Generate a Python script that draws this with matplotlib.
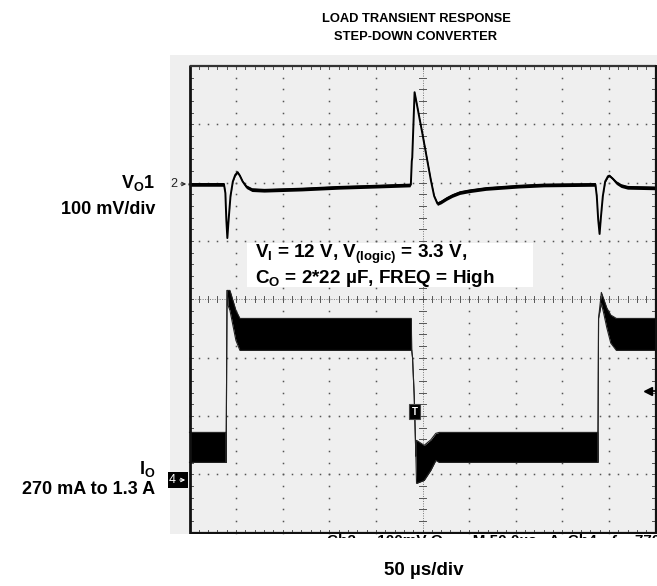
import numpy as np
import matplotlib
matplotlib.use("Agg")
import matplotlib.pyplot as plt
from matplotlib.patches import Rectangle
from matplotlib.transforms import Affine2D

plt.rcParams['font.family'] = ['Liberation Sans', 'DejaVu Sans']
plt.rcParams['mathtext.fontset'] = 'custom'
plt.rcParams['mathtext.rm'] = 'Liberation Sans:bold'
plt.rcParams['mathtext.it'] = 'Liberation Sans:bold'
plt.rcParams['mathtext.bf'] = 'Liberation Sans:bold'

# ---------------- data ----------------
TIME_PER_DIV = 50.0     # us / div
VO_PER_DIV = 100.0      # mV / div
IO_PER_DIV = 500.0      # mA / div
CH2_OFFSET = 1.97       # div
CH4_OFFSET = -3.07      # div

# Channel 2: output voltage deviation (mV) with noise half-width (mV)
vo_t = [0, 37, 38.5, 39.5, 40.6, 42, 44, 46.5, 49, 51.5, 54, 57, 61, 67, 80, 120,
        160, 200, 236.5, 237.5, 238.5, 239, 241.5, 250, 259, 262.5, 266, 270, 276,
        282, 290, 300, 318, 353, 380, 435.5, 437, 438.5, 440, 441.5, 443.5, 446,
        449, 450.5, 454, 458, 463, 470, 500]
vo_mv = [0, 0, -15, -60, -92, -60, -20, 5, 16, 21, 15, 5, -4, -9, -10, -8,
         -5, -3, -1, 0, 40, 46, 158, 86, 7, -20, -33, -30, -24,
         -19, -14, -11, -7, -3, -1, 0, -20, -60, -85, -55, -20, 5,
         14, 15, 10, 3, -2, -5, -6]
vo_w = [3.2, 3.2, 1, 0.5, 0.5, 0.5, 0.8, 1, 1.5, 2, 2, 2, 3, 3.2, 3.2, 3.2,
        3.2, 3.2, 3.2, 1, 0.3, 0.3, 0.8, 2, 2, 2, 3, 3.2, 3.2,
        3.2, 3.2, 3.2, 3.2, 3.2, 3.2, 3.2, 1, 0.5, 0.5, 0.5, 0.8, 1.5,
        2, 2, 2, 3, 3.2, 3.2, 3.2]

# Channel 4: load current envelope (mA): lower and upper edge of the trace
io_t = [0, 39.0, 39.3, 40.3, 41.5, 43.4, 46.6, 49.8, 54.1, 238.0, 238.4, 239.3,
        241.1, 242.9, 243.6, 251.8, 258.9, 264.3, 267.9, 437.9, 438.2, 438.9,
        441.9, 444.3, 447.8, 452.0, 458.0, 500]
io_lo = [137, 137, 137, 1611, 1480, 1440, 1311, 1183, 1097, 1097, 1100, 1037,
         711, 189, -43, -17, 69, 154, 137, 137, 137, 1371,
         1500, 1420, 1290, 1160, 1097, 1097]
io_hi = [394, 394, 137, 1611, 1611, 1611, 1526, 1440, 1371, 1371, 1100, 1037,
         711, 189, 326, 283, 330, 386, 394, 394, 137, 1371,
         1594, 1540, 1460, 1400, 1371, 1371]

TITLE = ["LOAD TRANSIENT RESPONSE", "STEP-DOWN CONVERTER"]
CH2_LABEL = [r"V$_\mathrm{O}$1", "100 mV/div"]
CH4_LABEL = [r"I$_\mathrm{O}$", "270 mA to 1.3 A"]
COND_TEXT = [r"V$_\mathrm{I}$ = 12 V, V$_\mathrm{(logic)}$ = 3.3 V,",
             r"C$_\mathrm{O}$ = 2*22 µF, FREQ = High"]
TIME_LABEL = "50 µs/div"
STATUS = "Ch2     100mV Ω       M 50.0µs   A  Ch4   ƒ    770mA"

# ---------------- layout ----------------
W, H = 657, 586
fig = plt.figure(figsize=(W / 100, H / 100), dpi=100)

X0, PXX = 189.5, 46.6
Y0, PXY = 299.3, 58.33
def dx(px):
    return (px - X0) / PXX
def dy(py):
    return (Y0 - py) / PXY

ax = fig.add_axes([170 / W, 1 - 534 / H, (W - 170) / W, (534 - 55) / H])
ax.set_xlim(dx(170), dx(657))
ax.set_ylim(dy(534), dy(55))
ax.set_facecolor('#efefef')
ax.set_xticks([])
ax.set_yticks([])
for s in ax.spines.values():
    s.set_visible(False)

gc = '#555555'
# graticule dots
for gx in range(1, 10):
    if gx == 5:
        continue
    ys = np.arange(-4, 4.001, 0.2)
    ax.plot(np.full_like(ys, gx), ys, ls='none', marker='s', ms=1.1, mec='none', mfc=gc, zorder=1)
for gy in range(-3, 4):
    if gy == 0:
        continue
    xs = np.arange(0, 10.001, 0.2)
    ax.plot(xs, np.full_like(xs, gy), ls='none', marker='s', ms=1.1, mec='none', mfc=gc, zorder=1)
# center lines with ticks
ax.plot([5, 5], [-4, 4], ls=(0, (1, 1.5)), lw=0.7, color='#777777', zorder=1)
ax.plot([0, 10], [0, 0], ls=(0, (1, 1.5)), lw=0.7, color='#777777', zorder=1)
for yy in np.arange(-4, 4.001, 0.2):
    ax.plot([5 - 0.065, 5 + 0.065], [yy, yy], lw=0.7, color=gc, zorder=1)
    ax.plot([0, 0.065], [yy, yy], lw=0.7, color=gc, zorder=1)
    ax.plot([10 - 0.065, 10], [yy, yy], lw=0.7, color=gc, zorder=1)
for xx in np.arange(0, 10.001, 0.2):
    ax.plot([xx, xx], [-0.05, 0.05], lw=0.7, color=gc, zorder=1)
    ax.plot([xx, xx], [4 - 0.05, 4], lw=0.7, color=gc, zorder=1)
    ax.plot([xx, xx], [-4, -4 + 0.05], lw=0.7, color=gc, zorder=1)
# border
ax.plot([0, 0], [-4.02, 4.02], color='#111111', lw=2.0, zorder=5, solid_capstyle='butt')
ax.plot([0, 10], [4, 4], color='#333333', lw=1.6, zorder=5, solid_capstyle='butt')
ax.plot([0, 10], [-4, -4], color='#111111', lw=1.6, zorder=5, solid_capstyle='butt')
ax.plot([10, 10], [-4.02, 4.02], color='#111111', lw=1.6, zorder=5, solid_capstyle='butt')

# condition text box
ax.add_patch(Rectangle((dx(246.7), dy(287.3)), dx(532.7) - dx(246.7), dy(242.7) - dy(287.3),
                       facecolor='white', edgecolor='none', zorder=2))
ax.text(dx(255), dy(258.3), COND_TEXT[0], fontsize=13.6, fontweight='bold', va='baseline', ha='left', zorder=3)
ax.text(dx(255), dy(283.3), COND_TEXT[1], fontsize=13.6, fontweight='bold', va='baseline', ha='left', zorder=3)

# traces via channel transforms
tr2 = Affine2D().scale(1 / TIME_PER_DIV, 1 / VO_PER_DIV).translate(0, CH2_OFFSET) + ax.transData
tr4 = Affine2D().scale(1 / TIME_PER_DIV, 1 / IO_PER_DIV).translate(0, CH4_OFFSET) + ax.transData

vt = np.array(vo_t); vm = np.array(vo_mv); vw = np.array(vo_w)
ax.fill_between(vt, vm - vw, vm + vw, color='black', lw=0, transform=tr2, zorder=4)
ax.plot(vt, vm, color='black', lw=1.4, transform=tr2, zorder=4)

it = np.array(io_t); lo = np.array(io_lo); hi = np.array(io_hi)
ax.fill_between(it, lo, hi, color='black', lw=0, transform=tr4, zorder=4)
ax.plot(it, lo, color='#222222', lw=0.8, transform=tr4, zorder=4)
ax.plot(it, hi, color='#222222', lw=0.8, transform=tr4, zorder=4)

# channel markers
ax.text(dx(170.5), dy(184), "2", fontsize=9, va='center', ha='left', color='#222222', zorder=6)
ax.annotate("", xy=(dx(189), dy(184)), xytext=(dx(178), dy(184)),
            arrowprops=dict(arrowstyle='->', lw=0.8, color='#222222', mutation_scale=6), zorder=6)
ax.add_patch(Rectangle((dx(168), dy(488)), dx(188) - dx(168), dy(472) - dy(488),
                       facecolor='black', edgecolor='none', zorder=6, clip_on=False))
ax.text(dx(169), dy(480), "4", fontsize=9, va='center', ha='left', color='white', zorder=7, clip_on=False)
ax.annotate("", xy=(dx(188), dy(480)), xytext=(dx(177), dy(480)),
            arrowprops=dict(arrowstyle='->', lw=0.8, color='white', mutation_scale=6), zorder=7)
# trigger position marker
ax.add_patch(Rectangle((dx(409.3), dy(419)), dx(420) - dx(409.3), dy(404.3) - dy(419),
                       facecolor='black', edgecolor='#444444', lw=0.8, zorder=6))
ax.text((dx(409.3) + dx(420)) / 2, (dy(404.3) + dy(419)) / 2, "T", fontsize=7, color='white',
        ha='center', va='center', fontweight='bold', zorder=7)
# trigger level marker
ax.plot([dx(648), dx(655)], [dy(391), dy(391)], color='black', lw=1.2, zorder=6)
ax.plot([dx(647.5)], [dy(391)], marker='<', ms=6, color='black', mec='black', zorder=6)

# status line (cut off at the bottom of the screen shot)
ax2 = fig.add_axes([170 / W, 1 - 537.5 / H, (W - 170) / W, 3.5 / H])
ax2.axis('off')
ax2.text((327 - 170) / (W - 170), 1.0 - 0.5 / 3.5, STATUS, transform=ax2.transAxes, fontsize=11,
         fontweight='bold', va='top', ha='left', clip_on=True)

# outer labels
def ftxt(x, y, s, **kw):
    fig.text(x / W, 1 - y / H, s, **kw)

ftxt(416, 22, TITLE[0], fontsize=9.3, fontweight='bold', ha='center', va='baseline')
ftxt(416, 40, TITLE[1], fontsize=9.3, fontweight='bold', ha='center', va='baseline')
ftxt(155, 188, CH2_LABEL[0], fontsize=13, fontweight='bold', ha='right', va='baseline')
ftxt(155, 214, CH2_LABEL[1], fontsize=13, fontweight='bold', ha='right', va='baseline')
ftxt(155, 474.3, CH4_LABEL[0], fontsize=13, fontweight='bold', ha='right', va='baseline')
ftxt(155, 494.3, CH4_LABEL[1], fontsize=13, fontweight='bold', ha='right', va='baseline')
ftxt(424, 575, TIME_LABEL, fontsize=13.5, fontweight='bold', ha='center', va='baseline')

fig.savefig("out.png", dpi=100)
